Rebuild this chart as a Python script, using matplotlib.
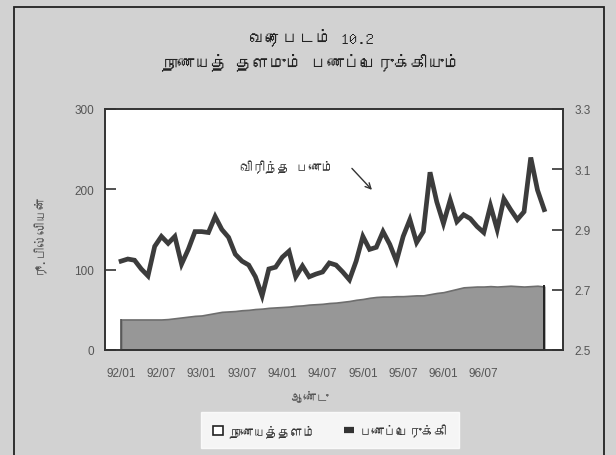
import numpy as np
import matplotlib
matplotlib.use("Agg")
import matplotlib.pyplot as plt
from matplotlib import font_manager
from matplotlib.patches import Rectangle, Patch
from matplotlib.lines import Line2D

# ---- find a font that covers Tamil, if any ----
tamil_fams = []
try:
    from fontTools.ttLib import TTFont
    seen = set()
    for f in font_manager.fontManager.ttflist:
        if f.name in seen:
            continue
        try:
            tt = TTFont(f.fname, fontNumber=0, lazy=True)
            cm = tt.getBestCmap()
            if cm and 0x0BA8 in cm and 0x0B95 in cm:
                tamil_fams.append(f.name)
                seen.add(f.name)
        except Exception:
            pass
except Exception:
    pass
TAMIL = tamil_fams[:1] + ['DejaVu Sans']
names = {f.name for f in font_manager.fontManager.ttflist}
NUMF = ['Liberation Sans Narrow'] if 'Liberation Sans Narrow' in names else ['Liberation Sans']
plt.rcParams['font.family'] = NUMF + ['DejaVu Sans']

# ---- data ----
months = np.arange(64)  # 1992/01 .. 1997/04, monthly
tick_pos = [0, 6, 12, 18, 24, 30, 36, 42, 48, 54]
tick_labels = ['92/01', '92/07', '93/01', '93/07', '94/01', '94/07',
               '95/01', '95/07', '96/01', '96/07']

reserve_money = [38, 38, 38, 38, 38, 38, 38,
                 38.5, 39.5, 40.5, 41.5, 42.5, 43,
                 44.5, 46, 47.5, 48,
                 48.5, 49.5, 50, 51, 51.5, 52.5, 53,
                 53.5, 54, 55, 55.5, 56.5, 57, 57.5, 58.5, 59,
                 60, 61, 62.5, 63.5, 65, 66,
                 66.5, 66.5, 67, 67, 67.5, 68, 68,
                 69.5, 71, 72,
                 74, 76, 78,
                 78.5, 79, 79, 79.5, 79, 79.5, 80, 79.5, 79, 79.5, 80, 79]

multiplier = [2.795, 2.802, 2.798, 2.769, 2.746, 2.844, 2.877, 2.854, 2.877, 2.785,
              2.834, 2.893, 2.893, 2.890, 2.943, 2.900, 2.874, 2.818, 2.795, 2.782,
              2.743, 2.680, 2.769, 2.775, 2.808, 2.828, 2.743, 2.779, 2.743, 2.752,
              2.759, 2.789, 2.782, 2.759, 2.733, 2.795, 2.877, 2.834, 2.841, 2.893,
              2.851, 2.795, 2.877, 2.933, 2.857, 2.893, 3.090, 2.992, 2.920, 2.998,
              2.926, 2.949, 2.936, 2.910, 2.890, 2.979, 2.900, 3.002, 2.966, 2.933,
              2.959, 3.139, 3.031, 2.966]

left_ticks = [0, 100, 200, 300]
right_ticks = [2.5, 2.7, 2.9, 3.1, 3.3]

title1 = 'வரைபடம் 10.2'
title2 = 'நாணயத் தளமும் பணப்பெருக்கியும்'
ylabel = 'ரூ.பில்லியன்'
xlabel = 'ஆண்டு'
note = 'விரிந்த பணம்'
leg1 = 'நாணயத்தளம்'
leg2 = 'பணப்பெருக்கி'

# ---- figure ----
W, H = 616, 456
fig = plt.figure(figsize=(W / 100, H / 100), dpi=100, facecolor='#d2d2d2')
fig.patches.append(Rectangle((14 / W, -0.02), (604 - 14) / W, 1.02 - 8 / H,
                             transform=fig.transFigure, fill=False,
                             edgecolor='#222222', linewidth=1.3))

ax = fig.add_axes([105 / W, 1 - 351 / H, (563 - 105) / W, (351 - 110) / H])
ax.set_facecolor('white')
ax.fill_between(months, 0, reserve_money, color='#979797', edgecolor='#6e6e6e',
                linewidth=1.2, zorder=2)
ax.vlines([months[-1]], 0, reserve_money[-1] + 2, color='#222222', lw=1.4, zorder=3)
ax.vlines([months[0]], 0, reserve_money[0], color='#555555', lw=1.2, zorder=3)
ax.set_xlim(-2.4, 65.8)
ax.set_ylim(0, 300)
ax.set_yticks(left_ticks)
ax.set_yticklabels([str(t) for t in left_ticks])
ax.set_xticks(tick_pos)
ax.set_xticklabels(tick_labels)
ax.tick_params(axis='y', direction='in', length=8, width=1.2, color='#333333',
               labelsize=8.5, labelcolor='#555555', pad=8)
ax.tick_params(axis='x', length=0, labelsize=8.5, labelcolor='#555555', pad=12)
for s in ax.spines.values():
    s.set_color('#333333')
    s.set_linewidth(1.2)

ax2 = ax.twinx()
ax2.plot(months, multiplier, color='#3c3c3c', lw=3.4, solid_joinstyle='miter', zorder=4)
ax2.set_ylim(2.5, 3.3)
ax2.set_yticks(right_ticks)
ax2.set_yticklabels(['%.1f' % t for t in right_ticks])
ax2.tick_params(axis='y', direction='in', length=8, width=1.2, color='#333333',
                labelsize=8.5, labelcolor='#555555', pad=8)
for s in ax2.spines.values():
    s.set_color('#333333')
    s.set_linewidth(1.2)

ax.annotate('', xy=(0.587, 0.656), xytext=(0.535, 0.762), xycoords='axes fraction',
            arrowprops=dict(arrowstyle='->', color='#333333', lw=1.0))
ax.text(0.397, 0.762, note, transform=ax.transAxes, ha='center', va='center',
        fontsize=9, color='#333333', family=TAMIL)

fig.text(0.505, 1 - 37 / H, title1, ha='center', va='center', fontsize=12,
         fontweight='bold', color='#222222', family=TAMIL)
fig.text(0.505, 1 - 62 / H, title2, ha='center', va='center', fontsize=12,
         fontweight='bold', color='#222222', family=TAMIL)
fig.text(38 / W, 1 - 233 / H, ylabel, rotation=90, ha='center', va='center',
         fontsize=9, color='#555555', family=TAMIL)
fig.text(310 / W, 1 - 396 / H, xlabel, ha='center', va='center',
         fontsize=9, color='#555555', family=TAMIL)

handles = [Patch(facecolor='white', edgecolor='#222222', linewidth=1.2),
           Line2D([], [], color='#333333', lw=4.5, solid_capstyle='butt')]
lg = fig.legend(handles, [leg1, leg2], loc='center', bbox_to_anchor=(330 / W, 1 - 431 / H),
                ncol=2, frameon=True, fancybox=False, handlelength=0.8,
                handleheight=0.8, columnspacing=2.2, borderpad=0.9, handletextpad=0.5,
                prop={'family': TAMIL, 'size': 9})
lg.get_frame().set_facecolor('white')
lg.get_frame().set_edgecolor('white')
for t in lg.get_texts():
    t.set_color('#333333')

fig.savefig('out.png', dpi=100, facecolor=fig.get_facecolor())
